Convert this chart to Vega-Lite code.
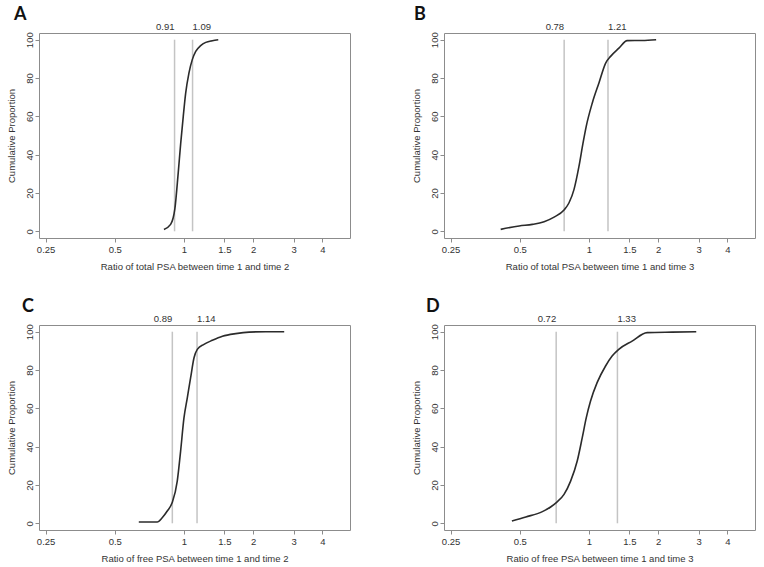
{
  "$schema": "https://vega.github.io/schema/vega-lite/v6.json",
  "background": "white",
  "padding": {"left": 5, "top": 5, "right": 5, "bottom": 5},
  "bounds": "flush",
  "columns": 2,
  "spacing": {"row": 87, "column": 94},
  "datasets": {
    "curves": [
      {"panel": "A", "ratio": 0.818, "cum": 1.0},
      {"panel": "A", "ratio": 0.875, "cum": 3.6},
      {"panel": "A", "ratio": 0.913, "cum": 11.8},
      {"panel": "A", "ratio": 0.944, "cum": 30.5},
      {"panel": "A", "ratio": 0.968, "cum": 46},
      {"panel": "A", "ratio": 0.993, "cum": 60},
      {"panel": "A", "ratio": 1.017, "cum": 72},
      {"panel": "A", "ratio": 1.051, "cum": 82.6},
      {"panel": "A", "ratio": 1.087, "cum": 89.6},
      {"panel": "A", "ratio": 1.125, "cum": 93.9},
      {"panel": "A", "ratio": 1.182, "cum": 96.9},
      {"panel": "A", "ratio": 1.244, "cum": 98.6},
      {"panel": "A", "ratio": 1.329, "cum": 99.5},
      {"panel": "A", "ratio": 1.41, "cum": 100},
      {"panel": "B", "ratio": 0.413, "cum": 1.0},
      {"panel": "B", "ratio": 0.497, "cum": 2.8},
      {"panel": "B", "ratio": 0.567, "cum": 3.6},
      {"panel": "B", "ratio": 0.638, "cum": 5.0},
      {"panel": "B", "ratio": 0.705, "cum": 7.4},
      {"panel": "B", "ratio": 0.779, "cum": 11.1},
      {"panel": "B", "ratio": 0.819, "cum": 14.9},
      {"panel": "B", "ratio": 0.861, "cum": 21.9},
      {"panel": "B", "ratio": 0.905, "cum": 34},
      {"panel": "B", "ratio": 0.942, "cum": 46},
      {"panel": "B", "ratio": 0.973, "cum": 54.8},
      {"panel": "B", "ratio": 1.034, "cum": 67},
      {"panel": "B", "ratio": 1.105, "cum": 77.4},
      {"panel": "B", "ratio": 1.182, "cum": 87.8},
      {"panel": "B", "ratio": 1.242, "cum": 91.3},
      {"panel": "B", "ratio": 1.35, "cum": 95.6},
      {"panel": "B", "ratio": 1.467, "cum": 99.5},
      {"panel": "B", "ratio": 1.704, "cum": 99.6},
      {"panel": "B", "ratio": 1.96, "cum": 100},
      {"panel": "C", "ratio": 0.636, "cum": 0.7},
      {"panel": "C", "ratio": 0.765, "cum": 0.7},
      {"panel": "C", "ratio": 0.804, "cum": 2.9},
      {"panel": "C", "ratio": 0.846, "cum": 6.4},
      {"panel": "C", "ratio": 0.889, "cum": 10.8},
      {"panel": "C", "ratio": 0.935, "cum": 22},
      {"panel": "C", "ratio": 0.967, "cum": 37.7},
      {"panel": "C", "ratio": 1.0, "cum": 55},
      {"panel": "C", "ratio": 1.034, "cum": 65.5},
      {"panel": "C", "ratio": 1.069, "cum": 76},
      {"panel": "C", "ratio": 1.106, "cum": 86.4},
      {"panel": "C", "ratio": 1.143, "cum": 90.8},
      {"panel": "C", "ratio": 1.222, "cum": 93.4},
      {"panel": "C", "ratio": 1.329, "cum": 95.5},
      {"panel": "C", "ratio": 1.47, "cum": 97.6},
      {"panel": "C", "ratio": 1.68, "cum": 99},
      {"panel": "C", "ratio": 1.921, "cum": 99.8},
      {"panel": "C", "ratio": 2.273, "cum": 100},
      {"panel": "C", "ratio": 2.73, "cum": 100},
      {"panel": "D", "ratio": 0.462, "cum": 1.2},
      {"panel": "D", "ratio": 0.531, "cum": 3.3},
      {"panel": "D", "ratio": 0.627, "cum": 6.1},
      {"panel": "D", "ratio": 0.681, "cum": 8.5},
      {"panel": "D", "ratio": 0.721, "cum": 10.8},
      {"panel": "D", "ratio": 0.779, "cum": 15.1},
      {"panel": "D", "ratio": 0.832, "cum": 22},
      {"panel": "D", "ratio": 0.889, "cum": 32.5},
      {"panel": "D", "ratio": 0.935, "cum": 44.7},
      {"panel": "D", "ratio": 0.973, "cum": 55},
      {"panel": "D", "ratio": 1.016, "cum": 63.8},
      {"panel": "D", "ratio": 1.085, "cum": 73.4},
      {"panel": "D", "ratio": 1.181, "cum": 82.1},
      {"panel": "D", "ratio": 1.261, "cum": 87.3},
      {"panel": "D", "ratio": 1.348, "cum": 90.8},
      {"panel": "D", "ratio": 1.541, "cum": 95.1},
      {"panel": "D", "ratio": 1.79, "cum": 99.5},
      {"panel": "D", "ratio": 2.3, "cum": 99.8},
      {"panel": "D", "ratio": 2.93, "cum": 100}
    ],
    "cuts": [
      {"panel": "A", "side": "lower", "ratio": 0.91, "label": "0.91"},
      {"panel": "A", "side": "upper", "ratio": 1.09, "label": "1.09"},
      {"panel": "B", "side": "lower", "ratio": 0.78, "label": "0.78"},
      {"panel": "B", "side": "upper", "ratio": 1.21, "label": "1.21"},
      {"panel": "C", "side": "lower", "ratio": 0.89, "label": "0.89"},
      {"panel": "C", "side": "upper", "ratio": 1.14, "label": "1.14"},
      {"panel": "D", "side": "lower", "ratio": 0.72, "label": "0.72"},
      {"panel": "D", "side": "upper", "ratio": 1.33, "label": "1.33"}
    ]
  },
  "concat": [
    {
      "width": 311, "height": 205,
      "title": {"text": "A", "anchor": "start", "frame": "group", "dx": -25, "offset": -16, "baseline": "alphabetic"},
      "layer": [
        {"data": {"name": "cuts"}, "transform": [{"filter": "datum.panel == 'A'"}], "mark": {"type": "rule", "color": "#c4c4c4", "strokeWidth": 1.5}, "encoding": {"x": {"field": "ratio", "type": "quantitative", "scale": {"type": "log", "domain": [0.234, 5.278], "nice": false}, "axis": {"values": [0.25, 0.5, 1, 1.5, 2, 3, 4], "format": "~g", "title": "Ratio of total PSA between time 1 and time 2"}}, "y": {"datum": 0, "type": "quantitative", "scale": {"domain": [-3.5, 103.5], "nice": false}, "axis": {"values": [0, 20, 40, 60, 80, 100], "title": "Cumulative Proportion"}}, "y2": {"datum": 100}}},
        {"data": {"name": "cuts"}, "transform": [{"filter": "datum.panel == 'A' && datum.side == 'lower'"}], "mark": {"type": "text", "align": "right", "baseline": "alphabetic", "dy": -9.4}, "encoding": {"x": {"field": "ratio", "type": "quantitative"}, "y": {"datum": 100, "type": "quantitative"}, "text": {"field": "label"}}},
        {"data": {"name": "cuts"}, "transform": [{"filter": "datum.panel == 'A' && datum.side == 'upper'"}], "mark": {"type": "text", "align": "left", "baseline": "alphabetic", "dy": -9.4}, "encoding": {"x": {"field": "ratio", "type": "quantitative"}, "y": {"datum": 100, "type": "quantitative"}, "text": {"field": "label"}}},
        {"data": {"name": "curves"}, "transform": [{"filter": "datum.panel == 'A'"}], "mark": {"type": "line", "color": "#2b2b2b", "strokeWidth": 1.6, "interpolate": "monotone"}, "encoding": {"x": {"field": "ratio", "type": "quantitative"}, "y": {"field": "cum", "type": "quantitative"}}}
      ]
    },
    {
      "width": 311, "height": 205,
      "title": {"text": "B", "anchor": "start", "frame": "group", "dx": -30, "offset": -16, "baseline": "alphabetic"},
      "layer": [
        {"data": {"name": "cuts"}, "transform": [{"filter": "datum.panel == 'B'"}], "mark": {"type": "rule", "color": "#c4c4c4", "strokeWidth": 1.5}, "encoding": {"x": {"field": "ratio", "type": "quantitative", "scale": {"type": "log", "domain": [0.234, 5.278], "nice": false}, "axis": {"values": [0.25, 0.5, 1, 1.5, 2, 3, 4], "format": "~g", "title": "Ratio of total PSA between time 1 and time 3"}}, "y": {"datum": 0, "type": "quantitative", "scale": {"domain": [-3.5, 103.5], "nice": false}, "axis": {"values": [0, 20, 40, 60, 80, 100], "title": "Cumulative Proportion"}}, "y2": {"datum": 100}}},
        {"data": {"name": "cuts"}, "transform": [{"filter": "datum.panel == 'B' && datum.side == 'lower'"}], "mark": {"type": "text", "align": "right", "baseline": "alphabetic", "dy": -9.4}, "encoding": {"x": {"field": "ratio", "type": "quantitative"}, "y": {"datum": 100, "type": "quantitative"}, "text": {"field": "label"}}},
        {"data": {"name": "cuts"}, "transform": [{"filter": "datum.panel == 'B' && datum.side == 'upper'"}], "mark": {"type": "text", "align": "left", "baseline": "alphabetic", "dy": -9.4}, "encoding": {"x": {"field": "ratio", "type": "quantitative"}, "y": {"datum": 100, "type": "quantitative"}, "text": {"field": "label"}}},
        {"data": {"name": "curves"}, "transform": [{"filter": "datum.panel == 'B'"}], "mark": {"type": "line", "color": "#2b2b2b", "strokeWidth": 1.6, "interpolate": "monotone"}, "encoding": {"x": {"field": "ratio", "type": "quantitative"}, "y": {"field": "cum", "type": "quantitative"}}}
      ]
    },
    {
      "width": 311, "height": 205,
      "title": {"text": "C", "anchor": "start", "frame": "group", "dx": -17, "offset": -16, "baseline": "alphabetic"},
      "layer": [
        {"data": {"name": "cuts"}, "transform": [{"filter": "datum.panel == 'C'"}], "mark": {"type": "rule", "color": "#c4c4c4", "strokeWidth": 1.5}, "encoding": {"x": {"field": "ratio", "type": "quantitative", "scale": {"type": "log", "domain": [0.234, 5.278], "nice": false}, "axis": {"values": [0.25, 0.5, 1, 1.5, 2, 3, 4], "format": "~g", "title": "Ratio of free PSA between time 1 and time 2"}}, "y": {"datum": 0, "type": "quantitative", "scale": {"domain": [-3.5, 103.5], "nice": false}, "axis": {"values": [0, 20, 40, 60, 80, 100], "title": "Cumulative Proportion"}}, "y2": {"datum": 100}}},
        {"data": {"name": "cuts"}, "transform": [{"filter": "datum.panel == 'C' && datum.side == 'lower'"}], "mark": {"type": "text", "align": "right", "baseline": "alphabetic", "dy": -9.4}, "encoding": {"x": {"field": "ratio", "type": "quantitative"}, "y": {"datum": 100, "type": "quantitative"}, "text": {"field": "label"}}},
        {"data": {"name": "cuts"}, "transform": [{"filter": "datum.panel == 'C' && datum.side == 'upper'"}], "mark": {"type": "text", "align": "left", "baseline": "alphabetic", "dy": -9.4}, "encoding": {"x": {"field": "ratio", "type": "quantitative"}, "y": {"datum": 100, "type": "quantitative"}, "text": {"field": "label"}}},
        {"data": {"name": "curves"}, "transform": [{"filter": "datum.panel == 'C'"}], "mark": {"type": "line", "color": "#2b2b2b", "strokeWidth": 1.6, "interpolate": "monotone"}, "encoding": {"x": {"field": "ratio", "type": "quantitative"}, "y": {"field": "cum", "type": "quantitative"}}}
      ]
    },
    {
      "width": 311, "height": 205,
      "title": {"text": "D", "anchor": "start", "frame": "group", "dx": -18, "offset": -16, "baseline": "alphabetic"},
      "layer": [
        {"data": {"name": "cuts"}, "transform": [{"filter": "datum.panel == 'D'"}], "mark": {"type": "rule", "color": "#c4c4c4", "strokeWidth": 1.5}, "encoding": {"x": {"field": "ratio", "type": "quantitative", "scale": {"type": "log", "domain": [0.234, 5.278], "nice": false}, "axis": {"values": [0.25, 0.5, 1, 1.5, 2, 3, 4], "format": "~g", "title": "Ratio of free PSA between time 1 and time 3"}}, "y": {"datum": 0, "type": "quantitative", "scale": {"domain": [-3.5, 103.5], "nice": false}, "axis": {"values": [0, 20, 40, 60, 80, 100], "title": "Cumulative Proportion"}}, "y2": {"datum": 100}}},
        {"data": {"name": "cuts"}, "transform": [{"filter": "datum.panel == 'D' && datum.side == 'lower'"}], "mark": {"type": "text", "align": "right", "baseline": "alphabetic", "dy": -9.4}, "encoding": {"x": {"field": "ratio", "type": "quantitative"}, "y": {"datum": 100, "type": "quantitative"}, "text": {"field": "label"}}},
        {"data": {"name": "cuts"}, "transform": [{"filter": "datum.panel == 'D' && datum.side == 'upper'"}], "mark": {"type": "text", "align": "left", "baseline": "alphabetic", "dy": -9.4}, "encoding": {"x": {"field": "ratio", "type": "quantitative"}, "y": {"datum": 100, "type": "quantitative"}, "text": {"field": "label"}}},
        {"data": {"name": "curves"}, "transform": [{"filter": "datum.panel == 'D'"}], "mark": {"type": "line", "color": "#2b2b2b", "strokeWidth": 1.6, "interpolate": "monotone"}, "encoding": {"x": {"field": "ratio", "type": "quantitative"}, "y": {"field": "cum", "type": "quantitative"}}}
      ]
    }
  ],
  "config": {
    "font": "Liberation Sans",
    "view": {"stroke": "#8c8c8c", "strokeWidth": 1},
    "title": {"font": "Lato", "fontSize": 18, "fontWeight": "bold", "color": "#111111"},
    "text": {"font": "Liberation Sans", "fontSize": 9.5, "color": "#333333"},
    "axis": {"domain": false, "grid": false, "ticks": true, "tickColor": "#8c8c8c", "tickSize": 4, "labelFont": "Liberation Sans", "labelFontSize": 9.5, "labelColor": "#333333", "titleFont": "Liberation Sans", "titleFontSize": 9.5, "titleFontWeight": "normal", "titleColor": "#333333"},
    "axisX": {"labelPadding": 2, "titlePadding": 8},
    "axisY": {"labelAngle": -90, "labelAlign": "center", "labelBaseline": "alphabetic", "labelPadding": 3, "titlePadding": 8}
  }
}
